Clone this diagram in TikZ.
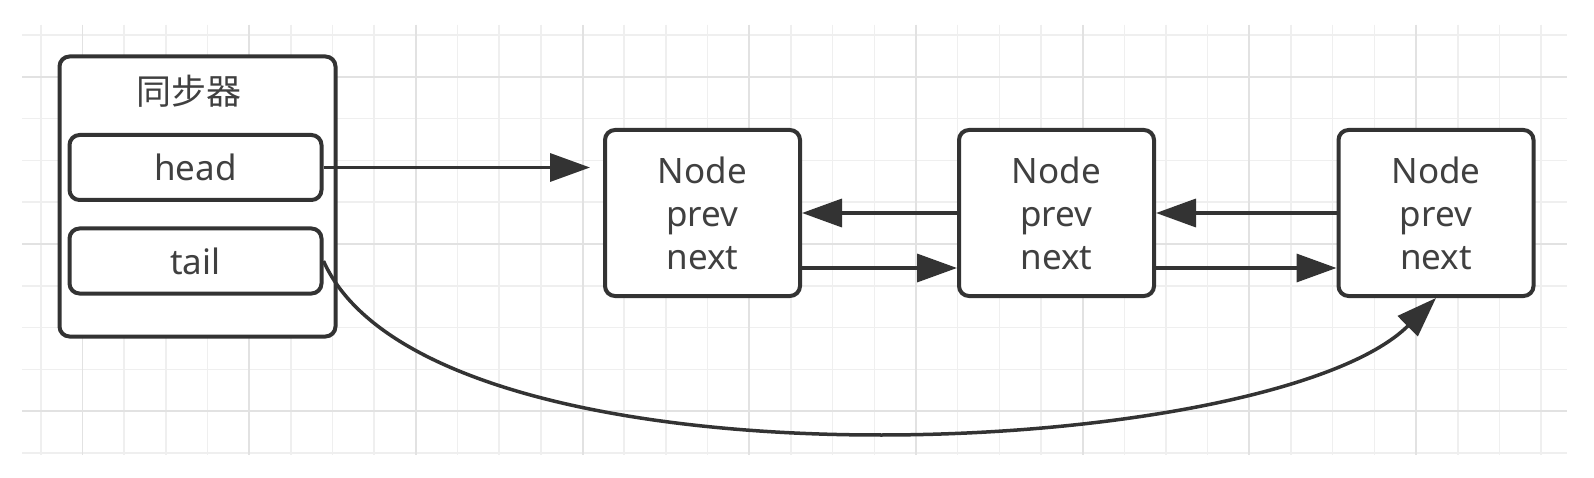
\documentclass[tikz,border=0pt]{standalone}
\usepackage{fontspec}
\setmainfont{Noto Sans}
\newfontfamily\cjk{Noto Sans CJK SC}
\usetikzlibrary{arrows.meta,calc}
\definecolor{linec}{HTML}{333333}
\definecolor{textc}{HTML}{404040}
\definecolor{gridminor}{HTML}{EFEFEF}
\definecolor{gridmajor}{HTML}{E2E2E2}
\tikzset{
  box/.style={draw=linec, line width=4pt, rounded corners=10pt, fill=white, text=textc, align=center, inner sep=0pt},
  nodebox/.style={box, minimum width=195pt, minimum height=166pt, font=\fontsize{35}{43}\selectfont},
  field/.style={box, minimum width=252pt, minimum height=65pt, font=\fontsize{35}{40}\selectfont},
  arr/.style={draw=linec, line width=3.5pt, -{Triangle[length=40pt,width=28pt]}},
  gminor/.style={draw=gridminor, line width=1.6pt},
  gmajor/.style={draw=gridmajor, line width=1.8pt}
}
\begin{document}
\begin{tikzpicture}[x=1pt,y=-1pt]
  \useasboundingbox[fill=white] (0,0) rectangle (1594,478);
  % grid
  \foreach \k in {0,...,36} {
    \draw[gminor] ({40.9+41.67*\k},25) -- ({40.9+41.67*\k},455);
  }
  \foreach \k in {0,...,10} {
    \draw[gminor] (22,{35+41.8*\k}) -- (1567,{35+41.8*\k});
  }
  \foreach \k in {1,5,...,33} {
    \draw[gmajor] ({40.9+41.67*\k},25) -- ({40.9+41.67*\k},455);
  }
  \foreach \k in {1,5,9} {
    \draw[gmajor] (22,{35+41.8*\k}) -- (1567,{35+41.8*\k});
  }
  % synchronizer box
  \node[box, minimum width=276pt, minimum height=280pt] (sync) at (197.5,196.5) {};
  \node[text=textc, font=\cjk\fontsize{35}{40}\selectfont, inner sep=0pt] (title) at (189,91) {同步器};
  \node[field] (head) at (195.5,167.5) {head};
  \node[field] (tail) at (195.5,261) {tail};
  % linked nodes
  \node[nodebox] (n1) at (702.5,213) {Node\\prev\\next};
  \node[nodebox] (n2) at (1056.5,213) {Node\\prev\\next};
  \node[nodebox] (n3) at (1436,213) {Node\\prev\\next};
  % connectors
  \coordinate (h1) at ($(head.east -| n1.west)+(-13,0)$);
  \draw[arr] (head.east) -- (h1);
  \draw[arr] (n2.west) -- (n1.east);
  \draw[arr] (n3.west) -- (n2.east);
  \draw[arr] ($(n1.east)+(0,55)$) -- ($(n2.west)+(0,55)$);
  \draw[arr] ($(n2.east)+(0,55)$) -- ($(n3.west)+(0,55)$);
  \draw[arr] (tail.east) .. controls +(107,240) and +(-166,165) .. (n3.south);
\end{tikzpicture}
\end{document}
